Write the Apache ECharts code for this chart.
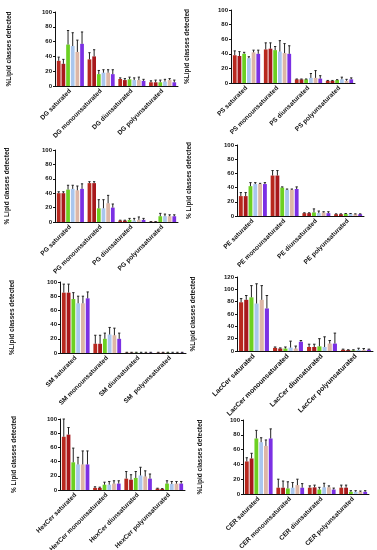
<!DOCTYPE html>
<html><head><meta charset="utf-8">
<script src="https://cdn.jsdelivr.net/npm/echarts@6/dist/echarts.min.js"></script>
<style>html,body{margin:0;padding:0;background:#fff}#c{width:377px;height:550px}</style>
</head><body><div id="c"></div>
<script>
// Categories
const dgCategories = ['DG saturated','DG monounsaturated','DG diunsaturated','DG polyunsaturated'];
const psCategories = ['PS saturated','PS monounsaturated','PS diunsaturated','PS polyunsaturated'];
const pgCategories = ['PG saturated','PG monounsaturated','PG diunsaturated','PG polyunsaturated'];
const peCategories = ['PE saturated','PE monounsaturated','PE diunsaturated','PE polyunsaturated'];
const smCategories = ['SM saturated','SM monounsaturated','SM diunsaturated','SM  polyunsaturated'];
const laccerCategories = ['LacCer saturated','LacCer monounsaturated','LacCer diunsaturated','LacCer polyunsaturated'];
const hexcerCategories = ['HexCer saturated','HexCer monounsaturated','HexCer diunsaturated','HexCer polyunsaturated'];
const cerCategories = ['CER saturated','CER monounsaturated','CER diunsaturated','CER polyunsaturated'];

const seriesNames = ['S1','S2','S3','S4','S5','S6'];

// Means (one row per series, one value per category)
const dgMeans = [[34,36,9.5,5],[30,40,8,5],[56,16,9,5],[54,18,8,6],[46,18,8,8],[57,16,7,5]];
const dgSD    = [[5,9,1.5,2],[6,9,2,3],[19,5,3,3],[18,4,3,3],[16,4,4,2],[16,6,2,3]];
const psMeans = [[38,46,5,3],[37,47,5,3],[40,45,5,4],[34,43,7,5],[42,41,7,3],[40,40,6,5]];
const psSD    = [[6,9,0.5,0.5],[6,8,0.5,0.5],[2,5,0.5,0.5],[2,15,6,3],[3,13,10,2],[5,11,4,2]];
const pgMeans = [[40,54,2,0.5],[40,54,2,0.5],[45,19,3,8],[46,19,2,8],[44,26,3,8],[46,20,3,8]];
const pgSD    = [[2,2,0.5,0],[2,2,0.5,0],[6,12,2,4],[5,12,3,3],[6,11,4,2],[7,5,2,2]];
const peMeans = [[28,57,4,2.5],[28,57,4,2.5],[42,40,5,3],[45,37,4,3],[45,37,5,2.5],[45,38,4,2.5]];
const peSD    = [[5,7,0.5,0.5],[5,7,0.5,0.5],[5,1,5,0.5],[2,1,3,0.5],[1,1,1,0.5],[2,3,2,0.5]];
const smMeans = [[85,13,0.5,0.5],[85,13,0.5,0.5],[76,20,0.5,0.5],[70,26,0.5,0.5],[70,25,0.5,0.5],[77,20,0.5,0.5]];
const smSD    = [[12,12,0.5,0.5],[12,12,0.5,0.5],[9,8,0.5,0.5],[10,10,0.5,0.5],[10,10,0.5,0.5],[9,8,0.5,0.5]];
const laccerMeans = [[79,5,6.5,2],[83,4,6.5,1.5],[87,4,7.5,1],[77,5.5,6.5,2],[83,4,12,1.5],[69,15,12,2]];
const laccerSD    = [[6,1.5,4.5,1],[7,1,4.5,0.5],[19,2.5,12.5,1],[32,10.5,16.5,2.5],[23,4,5,2.5],[21,2,17,1]];
const hexcerMeans = [[75,3,16,2],[78,3,14.5,1.5],[39,7.5,17,9],[36,7.5,20.5,8.5],[36,9,19,9],[36,9,16,9]];
const hexcerSD    = [[25,1.5,10,0.5],[10,1,7,0.5],[20,3.5,9,4],[10,4.5,11.5,3.5],[19,4,8,3],[19,4,6.5,3]];
const cerMeans = [[44,8.5,8.5,8.5],[48,8.5,9,8.5],[75,7.5,6,3],[70,8.5,9,3],[65,12,9,3],[75,8.5,6,3]];
const cerSD    = [[5,11.5,2.5,3.5],[7,9,3,3.5],[11,9,3,1.5],[6,7,5.5,1.5],[8,8,2,1],[13,5.5,2,1.5]];

const colors = ['#b8281e','#a8181c','#6cd022','#a9c6ee','#ddb6a6','#7b30e4'];

const panels = [
  {cats:dgCategories, means:dgMeans, sd:dgSD, max:100, yname:'%Lipid classes detected', g:{left:55,top:12,width:123,height:74}, gap:42, lf:6.5},
  {cats:psCategories, means:psMeans, sd:psSD, max:100, yname:'%Lipid classes detected', g:{left:231,top:10,width:124,height:73}, gap:40, lf:6.5},
  {cats:pgCategories, means:pgMeans, sd:pgSD, max:100, yname:'% Lipid classes detected', g:{left:55,top:150,width:123,height:72}, gap:44, lf:6.5},
  {cats:peCategories, means:peMeans, sd:peSD, max:100, yname:'% Lipid classes detected', g:{left:237,top:145,width:127,height:71}, gap:44, lf:6.5},
  {cats:smCategories, means:smMeans, sd:smSD, max:100, yname:'%Lipid classes detected', g:{left:60,top:282,width:126,height:71}, gap:44, lf:6.5},
  {cats:laccerCategories, means:laccerMeans, sd:laccerSD, max:120, yname:'%Lipid classes detected', g:{left:237,top:277,width:136,height:74}, gap:40, lf:7},
  {cats:hexcerCategories, means:hexcerMeans, sd:hexcerSD, max:100, yname:'% Lipid classes detected', g:{left:60,top:419,width:125,height:71}, gap:42, lf:6.5},
  {cats:cerCategories, means:cerMeans, sd:cerSD, max:100, yname:'%Lipid classes detected', g:{left:243,top:420,width:126,height:74}, gap:39, lf:6.5}
];

const CAT_GAP = 0.12, BAR_GAP = 0.25, N = 6;
const font = {fontFamily:'Liberation Sans, Arial, sans-serif', fontWeight:'bold', fontSize:6, color:'#111'};

const grid = [], xAxis = [], yAxis = [], series = [];
panels.forEach((p, k) => {
  grid.push(Object.assign({outerBoundsMode:'none', containLabel:false}, p.g));
  xAxis.push({type:'category', gridIndex:k, data:p.cats,
    axisLine:{lineStyle:{color:'#111',width:1}},
    axisTick:{alignWithLabel:true, length:2, lineStyle:{color:'#111'}},
    axisLabel:Object.assign({rotate:45, interval:0, margin:4}, font, {fontSize:p.lf})});
  yAxis.push({type:'value', gridIndex:k, min:0, max:p.max, interval:20,
    name:p.yname, nameLocation:'middle', nameGap:p.gap, nameRotate:90,
    nameTextStyle:Object.assign({}, font, {fontSize:6.5}),
    splitLine:{show:false},
    axisLine:{show:true, lineStyle:{color:'#111',width:1}},
    axisTick:{show:true, length:2, lineStyle:{color:'#111'}},
    axisLabel:Object.assign({margin:3}, font)});
  for (let i = 0; i < N; i++) {
    series.push({type:'bar', name:seriesNames[i], xAxisIndex:k, yAxisIndex:k,
      data:p.means[i], barCategoryGap:(CAT_GAP*100)+'%', barGap:(BAR_GAP*100)+'%',
      itemStyle:{color:colors[i]}, silent:true, animation:false});
  }
  for (let i = 0; i < N; i++) {
    const data = p.means[i].map((m, c) => [c, m, p.sd[i][c]]);
    series.push({type:'custom', xAxisIndex:k, yAxisIndex:k, data:data, z:5, silent:true, animation:false,
      renderItem:(function(idx){ return function(params, api){
        const c = api.value(0), m = api.value(1), s = api.value(2);
        const base = api.coord([c, m]);
        const top = api.coord([c, m + s]);
        const band = api.size([1, 0])[0];
        const w = band * (1 - CAT_GAP) / (N + (N - 1) * BAR_GAP);
        const total = N * w + (N - 1) * BAR_GAP * w;
        const x = base[0] - total / 2 + idx * w * (1 + BAR_GAP) + w / 2;
        const cap = w * 0.6;
        const st = {stroke:'#222', lineWidth:1};
        return {type:'group', children:[
          {type:'line', shape:{x1:x, y1:base[1], x2:x, y2:top[1]}, style:st},
          {type:'line', shape:{x1:x - cap/2, y1:top[1], x2:x + cap/2, y2:top[1]}, style:st}
        ]};
      };})(i)});
  }
});

const chart = echarts.init(document.getElementById('c'), null, {renderer:'canvas'});
chart.setOption({animation:false, grid, xAxis, yAxis, series});
</script></body></html>
